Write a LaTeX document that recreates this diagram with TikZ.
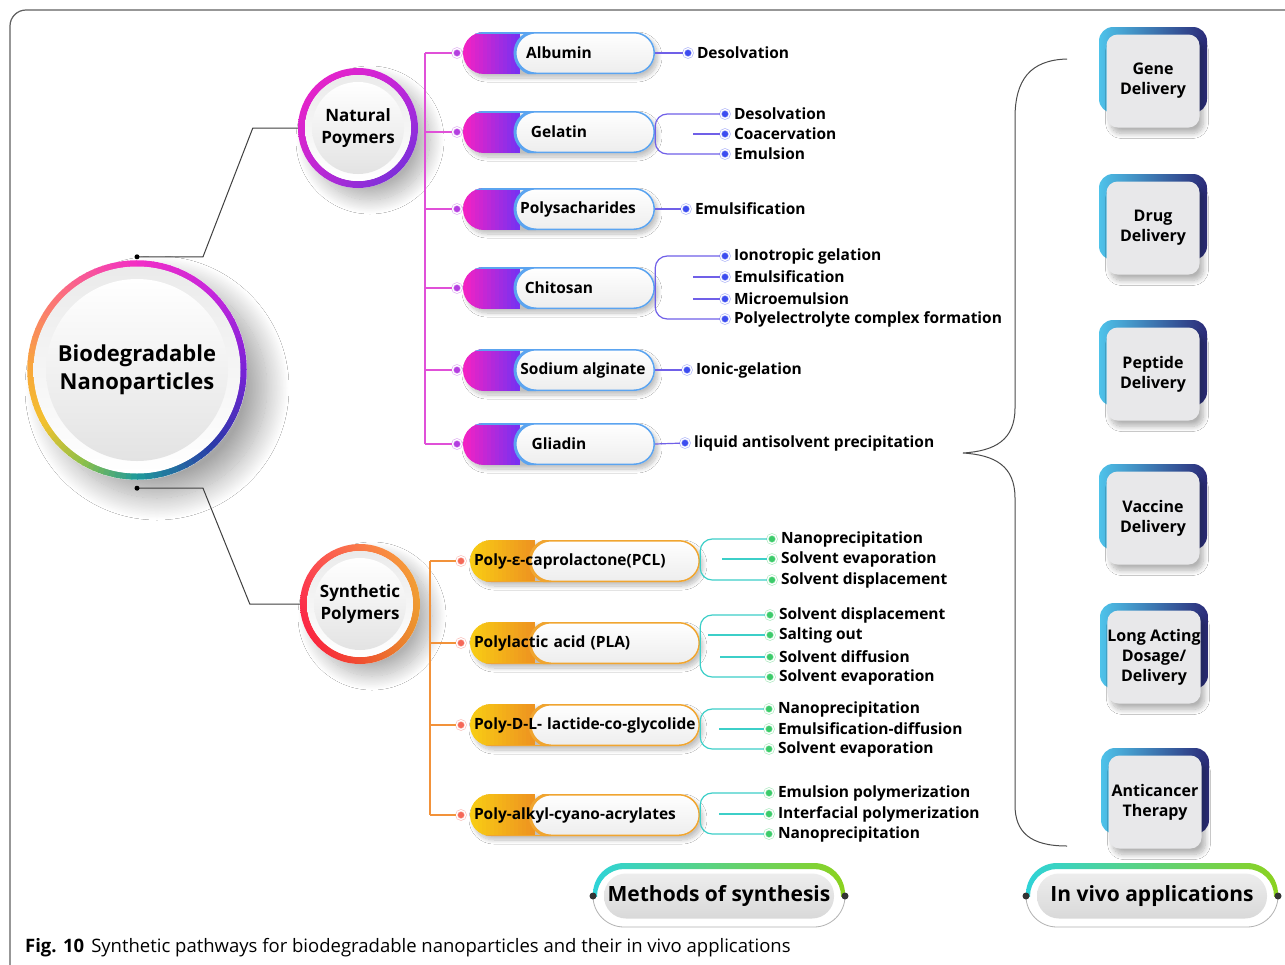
\documentclass[tikz,border=0pt]{standalone}
\usepackage{fontspec}
\setmainfont{Open Sans}
\usetikzlibrary{positioning,shadows.blur,shadings}

\definecolor{natA}{HTML}{F222C4}
\definecolor{natB}{HTML}{7A30F0}
\definecolor{natE}{HTML}{5BA4F0}
\definecolor{natK}{HTML}{B43FE0}
\definecolor{natT}{HTML}{E050D8}
\definecolor{natL}{HTML}{7060E8}
\definecolor{natD}{HTML}{3C4CF0}
\definecolor{synA}{HTML}{F8CC14}
\definecolor{synB}{HTML}{EE9420}
\definecolor{synE}{HTML}{F0A530}
\definecolor{synK}{HTML}{F56858}
\definecolor{synT}{HTML}{F2923A}
\definecolor{synL}{HTML}{3CCFC8}
\definecolor{synD}{HTML}{3CCB6A}
\definecolor{accL}{HTML}{4EC3EA}
\definecolor{accR}{HTML}{2B2A78}
\definecolor{boxG}{HTML}{E8E8EA}
\definecolor{secL}{HTML}{2ED3D8}
\definecolor{secR}{HTML}{8CD21E}
\definecolor{rV}{HTML}{7A22D6}
\definecolor{rMb}{HTML}{C526DC}
\definecolor{rM}{HTML}{F22EC6}
\definecolor{rS}{HTML}{FB6F7E}
\definecolor{rO}{HTML}{F8A83A}
\definecolor{rY}{HTML}{F2C12E}
\definecolor{rG}{HTML}{8CC04A}
\definecolor{rT}{HTML}{1E9A9A}
\definecolor{rB}{HTML}{2A3AA8}

\newcommand\hubfont{\fontsize{22}{28}\selectfont\bfseries}
\newcommand\subfont{\fontsize{17}{22}\selectfont\bfseries}
\newcommand\pillfont{\fontsize{15.5}{18}\selectfont\bfseries}
\newcommand\methfont{\fontsize{15.5}{18}\selectfont\bfseries}
\newcommand\appfont{\fontsize{16}{20}\selectfont\bfseries}
\newcommand\secfont{\fontsize{21}{26}\selectfont\bfseries}
\newcommand\capfont{\fontsize{18.5}{20}\selectfont}

\begin{document}
\begin{tikzpicture}[x=1pt,y=1pt]
      \tikzset { hub/.style = { circle,align=center,inner sep=0pt } }
      \tikzset { bigshadow/.style = { blur shadow={shadow xshift=20pt,shadow yshift=-18pt,shadow blur radius=22pt,shadow blur steps=30,shadow opacity=35} } }
      \tikzset { midshadow/.style = { blur shadow={shadow xshift=12pt,shadow yshift=-12pt,shadow blur radius=14pt,shadow blur steps=25,shadow opacity=30} } }
      \tikzset { pillshadow/.style = { blur shadow={shadow xshift=3pt,shadow yshift=-4pt,shadow blur radius=4pt,shadow blur steps=12,shadow opacity=25} } }
      \tikzset { natpill/.style = { rounded corners=21pt,minimum width=192pt,minimum height=42pt,inner sep=4pt,font=\pillfont,pillshadow,
        path picture={
          \foreach \k in {0,...,13} {
            \pgfmathtruncatemacro\q{\k*100/13}
            \fill[natB!\q!natA,sharp corners] ([xshift=\k*4pt]path picture bounding box.south west) rectangle ([xshift=\k*4pt+4.6pt]path picture bounding box.north west);
          }
          \draw[natE,line width=3pt] (path picture bounding box.north west) -- (path picture bounding box.north east);
          \shadedraw[top color=white,bottom color=gray!14,draw=natE,line width=3pt,rounded corners=21pt] ([xshift=52pt]path picture bounding box.south west) rectangle (path picture bounding box.north east);
        } } }
      \tikzset { synpill/.style = { rounded corners=21pt,minimum width=230pt,minimum height=42pt,text width=222pt,align=left,inner xsep=4pt,inner ysep=0pt,font=\pillfont,pillshadow,
        path picture={
          \foreach \k in {0,...,15} {
            \pgfmathtruncatemacro\q{\k*100/15}
            \fill[synB!\q!synA,sharp corners] ([xshift=\k*4pt]path picture bounding box.south west) rectangle ([xshift=\k*4pt+4.6pt]path picture bounding box.north west);
          }
          \draw[synE,line width=3pt] (path picture bounding box.south west) -- (path picture bounding box.south east);
          \shadedraw[top color=white,bottom color=gray!14,draw=synE,line width=3pt,rounded corners=21pt] ([xshift=60pt]path picture bounding box.south west) rectangle (path picture bounding box.north east);
        } } }
      \tikzset { ndot/.style = { circle,inner sep=0pt,minimum size=9pt,fill=#1,draw=#1!45,double=white,double distance=1.2pt,line width=0.6pt } }
      \tikzset { mtext/.style = { font=\methfont,inner sep=1pt } }
      \tikzset { link/.style = { draw=black!75,line width=1pt } }
      \tikzset { natline/.style = { draw=natT,line width=1.2pt } }
      \tikzset { nline/.style = { draw=natL,line width=1.2pt } }
      \tikzset { synline/.style = { draw=synT,line width=1.2pt } }
      \tikzset { sline/.style = { draw=synL,line width=1.2pt } }
      \tikzset { appbox/.style = { rounded corners=11pt,minimum width=93pt,minimum height=93pt,fill=boxG,align=center,font=\appfont,inner sep=0pt,
        blur shadow={shadow xshift=4pt,shadow yshift=-6pt,shadow blur radius=5pt,shadow blur steps=12,shadow opacity=30} } }
      \tikzset { seclabel/.style = { rounded corners=22pt,minimum width=230pt,minimum height=45pt,top color=gray!14,bottom color=gray!30,font=\secfont,inner sep=0pt } }

      \useasboundingbox (0,0) rectangle (1285,-964);
      \clip (0,0) rectangle (1285,-964);
      \fill[white] (0,0) rectangle (1285,-964);
      \draw[gray!75!black,line width=1.2pt,rounded corners=16pt] (10,-10) rectangle (1320,-1000);

      % hub circles
      \coordinate (mainc) at (137,-370);
      \coordinate (natc) at (358,-128);
      \coordinate (sync) at (360,-604);

      \fill[white,bigshadow] (mainc) circle (110pt);
      \foreach \sa/\ea/\ca/\cb in {0/45/rV/rMb,45/90/rMb/rM,90/135/rM/rS,135/180/rS/rO,180/210/rO/rY,210/240/rY/rG,240/270/rG/rT,270/315/rT/rB,315/360/rB/rV} {
        \foreach \i in {0,...,9} {
          \pgfmathsetmacro\a{\sa+\i*(\ea-\sa)/10}
          \pgfmathsetmacro\d{(\ea-\sa)/10+0.6}
          \pgfmathtruncatemacro\p{\i*10+5}
          \draw[line width=6.5pt,\cb!\p!\ca] ([shift={(\a:106.5pt)}]mainc) arc[start angle=\a,delta angle=\d,radius=106.5pt];
        }
      }
      \shade[top color=gray!16,bottom color=white] (mainc) circle (103.5pt);
      \shade[top color=white,bottom color=gray!22] (mainc) circle (91pt);

      \fill[white,midshadow] (natc) circle (60pt);
      \shade[even odd rule,upper left=natA,upper right=rMb,lower left=natA!60!natB,lower right=natB!70!rB] (natc) circle (60pt) (natc) circle (53pt);
      \shade[top color=gray!16,bottom color=white] (natc) circle (53pt);
      \shade[top color=white,bottom color=gray!22] (natc) circle (46pt);

      \fill[white,midshadow] (sync) circle (60pt);
      \shade[even odd rule,upper left=rS!70!red,upper right=rO,lower left=red!70!rM,lower right=synB!80!brown] (sync) circle (60pt) (sync) circle (53pt);
      \shade[top color=gray!16,bottom color=white] (sync) circle (53pt);
      \shade[top color=white,bottom color=gray!22] (sync) circle (46pt);

      \node[hub,minimum size=220pt,font=\hubfont] (main) at (mainc) {Biodegradable\\Nanoparticles};
      \node[hub,minimum size=120pt,font=\subfont] (natural) at (natc) {Natural\\Poymers};
      \node[hub,minimum size=120pt,font=\subfont] (synthetic) at (sync) {Synthetic\\Polymers};

      \draw[link] ([yshift=3pt]main.north) -- ++(66,0) -- ([xshift=-45pt]natural.west) -- (natural.west);
      \draw[link] ([yshift=-8pt]main.south) -- ++(66,0) -- ([xshift=-50pt]synthetic.west) -- (synthetic.west);
      \fill ([yshift=3pt]main.north) circle (2.5pt);
      \fill ([yshift=-8pt]main.south) circle (2.5pt);

      % natural polymers
      \node[natpill] (albumin) at (559,-53) {Albumin};
      \node[natpill] (gelatin) at (559,-132) {Gelatin};
      \node[natpill] (polysach) at (559,-209) {\hspace*{38pt}Polysacharides};
      \node[natpill] (chitosan) at (559,-288) {Chitosan};
      \node[natpill] (alginate) at (559,-370) {\hspace*{48pt}Sodium alginate};
      \node[natpill] (gliadin) at (559,-444) {Gliadin};

      \coordinate (ntrunk) at (425,-53);
      \foreach \p in {albumin,gelatin,polysach,chitosan,alginate,gliadin} {
        \node[ndot=natK] (\p-in) at ([xshift=-102pt]\p.center) {};
        \draw[natline] (\p-in.west) -- (\p-in -| ntrunk);
      }
      \draw[natline] (albumin-in -| ntrunk) -- (gliadin-in -| ntrunk);

      \foreach \nm/\x/\y/\txt in {albumin-1/688/53/Desolvation,
          gelatin-1/725/114/Desolvation,gelatin-2/725/134/Coacervation,gelatin-3/725/154/Emulsion,
          polysach-1/686/209/Emulsification,
          chitosan-1/725/256/Ionotropic gelation,chitosan-2/725/277/Emulsification,chitosan-3/725/299/Microemulsion,chitosan-4/725/319/Polyelectrolyte complex formation,
          alginate-1/687/370/Ionic-gelation,
          gliadin-1/685/443/liquid antisolvent precipitation} {
        \node[ndot=natD] (\nm) at (\x,-\y) {};
        \node[mtext,right=3pt of \nm] (\nm-t) {\txt};
      }

      \draw[nline] (albumin.east) -- (albumin-1);
      \draw[nline,rounded corners=12pt] (gelatin.east) |- (gelatin-1);
      \draw[nline,rounded corners=12pt] (gelatin.east) |- (gelatin-3);
      \draw[nline] (gelatin-2) -- ++(-32,0);
      \draw[nline] (polysach.east) -- (polysach-1);
      \draw[nline,rounded corners=12pt] (chitosan.east) |- (chitosan-1);
      \draw[nline,rounded corners=12pt] (chitosan.east) |- (chitosan-4);
      \draw[nline] (chitosan-2) -- ++(-32,0);
      \draw[nline] (chitosan-3) -- ++(-32,0);
      \draw[nline] (alginate.east) -- (alginate-1);
      \draw[nline] (gliadin.east) -- (gliadin-1);

      % synthetic polymers
      \node[synpill] (pcl) at (585,-561) {Poly-ε-caprolactone(PCL)};
      \node[synpill] (pla) at (585,-643) {Polylactic acid (PLA)};
      \node[synpill] (plga) at (585,-725) {\mbox{Poly-D-L- lactide-co-glycolide}};
      \node[synpill] (paca) at (585,-815) {Poly-alkyl-cyano-acrylates};

      \coordinate (strunk) at (430,-561);
      \foreach \p in {pcl,pla,plga,paca} {
        \node[ndot=synK] (\p-in) at ([xshift=-124pt]\p.center) {};
        \draw[synline] (\p-in.west) -- (\p-in -| strunk);
      }
      \draw[synline] (pcl-in -| strunk) -- (paca-in -| strunk);

      \foreach \nm/\x/\y/\txt in {pcl-1/772/539/Nanoprecipitation,pcl-2/772/559/Solvent evaporation,pcl-3/772/580/Solvent displacement,
          pla-1/770/615/Solvent displacement,pla-2/770/635/Salting out,pla-3/770/657/Solvent diffusion,pla-4/770/677/Solvent evaporation,
          plga-1/769/709/Nanoprecipitation,plga-2/769/729/Emulsification-diffusion,plga-3/769/749/Solvent evaporation,
          paca-1/769/793/Emulsion polymerization,paca-2/769/814/Interfacial polymerization,paca-3/769/834/Nanoprecipitation} {
        \node[ndot=synD] (\nm) at (\x,-\y) {};
        \node[mtext,right=3pt of \nm] (\nm-t) {\txt};
      }

      \draw[sline,rounded corners=12pt] (pcl.east) |- (pcl-1);
      \draw[sline,rounded corners=12pt] (pcl.east) |- (pcl-3);
      \draw[sline] (pcl-2) -- ++(-50,0);
      \draw[sline,rounded corners=12pt] (pla.east) |- (pla-1);
      \draw[sline,rounded corners=12pt] (pla.east) |- (pla-4);
      \draw[sline] (pla-2) -- ++(-62,0);
      \draw[sline] (pla-3) -- ++(-50,0);
      \draw[sline,rounded corners=12pt] (plga.east) |- (plga-1);
      \draw[sline,rounded corners=12pt] (plga.east) |- (plga-3);
      \draw[sline] (plga-2) -- ++(-50,0);
      \draw[sline,rounded corners=12pt] (paca.east) |- (paca-1);
      \draw[sline,rounded corners=12pt] (paca.east) |- (paca-3);
      \draw[sline] (paca-2) -- ++(-50,0);

      % brace towards the applications
      \draw[black!70,line width=1pt] (1067,-59) .. controls (1030,-60) and (1015,-80) .. (1015,-118) -- (1015,-408)
        .. controls (1015,-440) and (995,-451) .. (963,-453) .. controls (995,-455) and (1015,-466) .. (1015,-498)
        -- (1015,-805) .. controls (1015,-832) and (1030,-846) .. (1067,-846);

      % in vivo applications
      \foreach \nm/\x/\y/\txt in {gene/1153/81/{Gene\\Delivery},drug/1153/228/{Drug\\Delivery},peptide/1153/374/{Peptide\\Delivery},
          vaccine/1153/518/{Vaccine\\Delivery},longact/1154/657/{Long Acting\\Dosage/\\Delivery},anticancer/1155/802/{Anticancer\\Therapy}} {
        \shade[left color=accL,right color=accR,rounded corners=14pt] ({\x-54},{-\y+54}) rectangle ({\x+54},{-\y-32});
        \node[appbox] (\nm) at (\x,-\y) {\txt};
      }

      % section labels
      \foreach \nm/\x/\txt in {methods/719/Methods of synthesis,invivo/1152/In vivo applications} {
        \begin{scope}
          \clip ({\x-140},-896) rectangle ({\x+140},-850);
          \shade[left color=secL,right color=secR,even odd rule,rounded corners=31pt] ({\x-126},-927) rectangle ({\x+126},-863)
            [rounded corners=27pt] ({\x-122},-927) rectangle ({\x+122},-869);
        \end{scope}
        \begin{scope}
          \clip ({\x-140},-896) rectangle ({\x+140},-945);
          \draw[gray!60,line width=0.8pt,rounded corners=31pt] ({\x-126},-927) rectangle ({\x+126},-863);
        \end{scope}
        \fill[gray!40!black] ({\x-126},-896) circle (3.5pt) ({\x+126},-896) circle (3.5pt);
        \node[seclabel] (\nm) at (\x,-896) {\txt};
      }

      \node[anchor=base west,font=\capfont,inner sep=0pt] (caption) at (25,-952)
        {\textbf{Fig. 10}\hspace{7pt}Synthetic pathways for biodegradable nanoparticles and their in vivo applications};

    \end{tikzpicture}
\end{document}
